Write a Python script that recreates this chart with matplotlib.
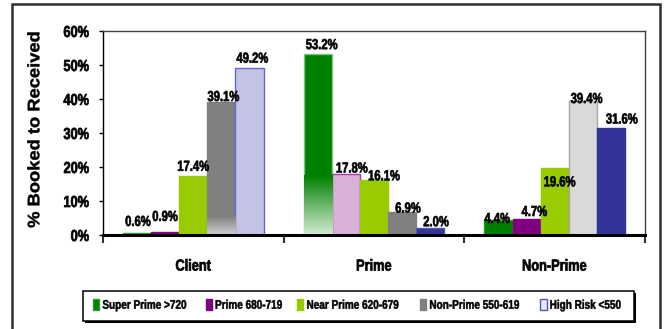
import numpy as np
import matplotlib
matplotlib.use("Agg")
import matplotlib.pyplot as plt
from matplotlib.patches import Patch, Rectangle
from matplotlib.colors import to_rgb
from matplotlib.patheffects import AbstractPathEffect
from matplotlib.transforms import Affine2D

plt.rcParams['font.family'] = ['Liberation Sans', 'DejaVu Sans']
plt.rcParams['font.weight'] = 'bold'


class Condense(AbstractPathEffect):
    """Squeeze (or widen) glyph outlines along the text direction,
    keeping the text anchored according to its horizontal alignment,
    with an optional outline stroke to make the glyphs heavier."""

    def __init__(self, sx=0.82, align=0.5, lw=0.0):
        super().__init__()
        self.sx = sx
        self.align = align
        self.lw = lw

    def draw_path(self, renderer, gc, tpath, affine, rgbFace=None):
        w = tpath.get_extents().x1
        shift = (1 - self.sx) * w * self.align
        a = Affine2D().scale(self.sx, 1).translate(shift, 0) + affine
        if self.lw and rgbFace is not None:
            gc0 = renderer.new_gc()
            gc0.copy_properties(gc)
            gc0.set_linewidth(self.lw)
            gc0.set_foreground(rgbFace)
            gc0.set_joinstyle("round")
            renderer.draw_path(gc0, tpath, a, rgbFace)
            gc0.restore()
        else:
            renderer.draw_path(gc, tpath, a, rgbFace)


categories = ["Client", "Prime", "Non-Prime"]
series = ["Super Prime >720", "Prime 680-719", "Near Prime 620-679",
          "Non-Prime 550-619", "High Risk <550"]
super_prime = [0.6, 53.2, 4.4]
prime = [0.9, 17.8, 4.7]
near_prime = [17.4, 16.1, 19.6]
non_prime = [39.1, 6.9, 39.4]
high_risk = [49.2, 2.0, 31.6]
values = [super_prime, prime, near_prime, non_prime, high_risk]
yticks = [0, 10, 20, 30, 40, 50, 60]

# per-bar fills and edges, one row per series (Client, Prime, Non-Prime)
fills = [
    ["#008000", "#008000", "#008000"],
    ["#800080", "#D8B0D8", "#800080"],
    ["#99CC00", "#99CC00", "#99CC00"],
    ["#808080", "#808080", "#D9D9D9"],
    ["#C3C3E3", "#333399", "#333399"],
]
edges = [
    ["#2E9A2E", "#7CC47C", "#2E9A2E"],
    ["#800080", "#A040A0", "#800080"],
    ["#99CC00", "#99CC00", "#99CC00"],
    ["#808080", "#808080", "#A6A6A6"],
    ["#6666CC", "#5555AA", "#333399"],
]
# bars with a fade toward the baseline: (series, group, fade top in %, light colour)
fades = [(0, 1, 17.5, "#D4ECD4"), (3, 0, 5.5, "#D0D0D0")]

# label nudges in pixels (dx, dy above bar top)
nudges = [
    [(1, 7), (4, 5), (-1, -3)],
    [(0, 11), (6, 2), (8, 3)],
    [(0, 5), (10, 0), (5, -18)],
    [(2, 1), (6, -1), (4, -2)],
    [(3, 5), (6, 2), (11, 4)],
]

fig = plt.figure(figsize=(6.66, 3.29), dpi=100)
ax = fig.add_axes([103 / 666, 1 - 235 / 329, 542 / 666, 204 / 329])

n = len(series)
w = 28 / 180
x = np.arange(len(categories))
for i in range(n):
    pos = x + (i - (n - 1) / 2) * w
    bars = ax.bar(pos, values[i], width=w, color=fills[i], edgecolor=edges[i],
                  linewidth=1.0, zorder=2)
    for j, (b, v) in enumerate(zip(bars, values[i])):
        dx, dy = nudges[i][j]
        ax.annotate(f"{v:.1f}%", (b.get_x() + b.get_width() / 2, v),
                    xytext=(dx, dy), textcoords="offset pixels",
                    ha="center", va="baseline", fontsize=10.5,
                    fontweight="bold", zorder=5,
                    path_effects=[Condense(0.77, 0.5, 0.45)])
    for (si, gj, top, light) in fades:
        if si == i:
            b = bars[gj]
            c0 = np.array(to_rgb(light))
            c1 = np.array(to_rgb(fills[si][gj]))
            t = np.linspace(0, 1, 64)[:, None]
            grad = (c0 * (1 - t) + c1 * t)[:, None, :]
            ax.imshow(grad, extent=[b.get_x(), b.get_x() + b.get_width(), 0, top],
                      origin="lower", aspect="auto", zorder=2.5,
                      interpolation="bilinear")

ax.set_xlim(-0.5, len(categories) - 0.5)
ax.set_ylim(0, 60)
ax.set_yticks(yticks)
ax.set_yticklabels([f"{t}%" for t in yticks], fontsize=11.5, fontweight="bold")
ax.tick_params(axis="y", length=3, width=1, pad=7, direction="out")
ax.set_xticks(x)
ax.set_xticklabels(categories, fontsize=11.5, fontweight="bold")
ax.tick_params(axis="x", which="major", length=0, pad=17)
ax.set_xticks(np.arange(len(categories) + 1) - 0.5, minor=True)
ax.tick_params(axis="x", which="minor", length=6, width=1.5, color="#303030")
for lbl in ax.get_yticklabels():
    lbl.set_path_effects([Condense(0.8, 1.0, 0.5)])
for lbl in ax.get_xticklabels():
    lbl.set_path_effects([Condense(0.8, 0.5, 0.5)])

ax.set_ylabel("% Booked to Received", fontsize=12, fontweight="bold")
ax.yaxis.label.set_path_effects([Condense(1.1, 0.5, 0.3)])
ax.yaxis.set_label_coords(-0.112, 0.515)

ax.spines["bottom"].set_linewidth(2.2)
ax.spines["bottom"].set_color("black")
ax.spines["left"].set_linewidth(1.0)
ax.spines["left"].set_color("black")
for s in ("top", "right"):
    ax.spines[s].set_color("#404040")
    ax.spines[s].set_linewidth(1.0)

# legend box with a thin drop shadow
fig.patches.append(Rectangle(((83 + 1.5) / 666, 1 - (321 + 1.5) / 329),
                             551 / 666, 30 / 329, transform=fig.transFigure,
                             facecolor="black", edgecolor="none", zorder=0.5))
fig.patches.append(Rectangle((83 / 666, 1 - 321 / 329), 551 / 666, 30 / 329,
                             transform=fig.transFigure, facecolor="white",
                             edgecolor="black", linewidth=1.1, zorder=0.6))

handles = [Patch(facecolor=fills[0][0], edgecolor="#2E9A2E"),
           Patch(facecolor=fills[1][0], edgecolor="#800080"),
           Patch(facecolor=fills[2][0], edgecolor="#99CC00"),
           Patch(facecolor=fills[3][0], edgecolor="#808080"),
           Patch(facecolor="#E8E8F6", edgecolor="#5555BB")]
leg = fig.legend(handles, series, loc="center left", ncol=5,
                 bbox_to_anchor=(93 / 666, 1 - 305.5 / 329),
                 fontsize=9, frameon=False, borderpad=0, borderaxespad=0,
                 handlelength=0.5, handleheight=0.9, handletextpad=0.25,
                 columnspacing=-0.15)
for t in leg.get_texts():
    t.set_fontweight("bold")
    t.set_path_effects([Condense(0.8, 0.0, 0.35)])

fig.patches.append(Rectangle((12 / 666, -0.05), 648 / 666, 1.05 - 4 / 329,
                             transform=fig.transFigure, fill=False,
                             edgecolor="#303030", linewidth=1.8))

fig.savefig("out.png", dpi=100)
